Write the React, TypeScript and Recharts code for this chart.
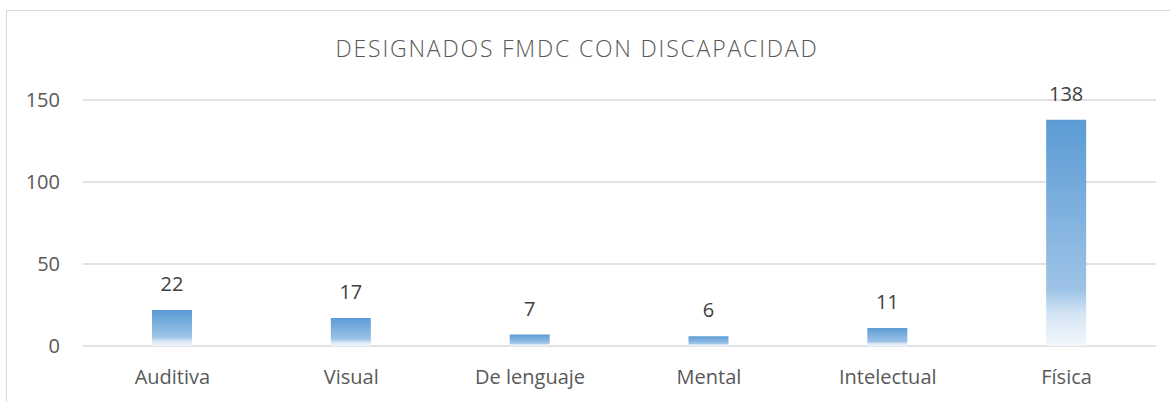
import { BarChart, Bar, XAxis, YAxis, CartesianGrid, LabelList } from "recharts";

const categories = ["Auditiva", "Visual", "De lenguaje", "Mental", "Intelectual", "Física"];
const designados = [22, 17, 7, 6, 11, 138];
const yTicks = [0, 50, 100, 150];

const data = categories.map((name, i) => ({ name, value: designados[i] }));

const FONT = "'Open Sans', 'Liberation Sans', sans-serif";

const App = (): React.JSX.Element => (
  <div style={{ position: "absolute", left: 0, top: 0, width: 1170, height: 402, background: "#fff", overflow: "hidden" }}>
    <div
      style={{
        position: "absolute",
        left: 6,
        top: 10,
        width: 1200,
        height: 430,
        border: "1px solid #d9d9d9"
      }}
    />
    <div
      style={{
        position: "absolute",
        left: 577 - 400,
        top: 32,
        width: 800,
        textAlign: "center",
        fontFamily: FONT,
        fontSize: 23,
        fontWeight: 300,
        letterSpacing: 1.8,
        color: "#595959",
        whiteSpace: "nowrap"
      }}
    >
      DESIGNADOS FMDC CON DISCAPACIDAD
    </div>
    <div style={{ position: "absolute", left: 0, top: 0 }}>
      <BarChart
        width={1170}
        height={402}
        data={data}
        margin={{ top: 100, right: 14, bottom: 26, left: 0 }}
        barSize={40}
      >
        <defs>
          <linearGradient id="barFill" x1="0" y1="0" x2="0" y2="1">
            <stop offset="0" stopColor="#5B9BD5" />
            <stop offset="0.75" stopColor="#9DC3E6" />
            <stop offset="0.86" stopColor="#D5E5F4" />
            <stop offset="1" stopColor="#F2F7FC" />
          </linearGradient>
        </defs>
        <CartesianGrid vertical={false} stroke="#d9d9d9" strokeWidth={1.5} />
        <XAxis
          dataKey="name"
          axisLine={false}
          tickLine={false}
          tickSize={0}
          tickMargin={24}
          tick={{ fill: "#595959", fontSize: 20, fontFamily: FONT }}
        />
        <YAxis
          width={83}
          domain={[0, 150]}
          ticks={yTicks}
          axisLine={false}
          tickLine={false}
          tickSize={0}
          tickMargin={23}
          tick={{ fill: "#595959", fontSize: 20, fontFamily: FONT }}
        />
        <Bar dataKey="value" fill="url(#barFill)" isAnimationActive={false}>
          <LabelList
            dataKey="value"
            position="top"
            offset={19}
            fill="#404040"
            fontSize={20}
            fontFamily={FONT}
          />
        </Bar>
      </BarChart>
    </div>
  </div>
);

export default App;
